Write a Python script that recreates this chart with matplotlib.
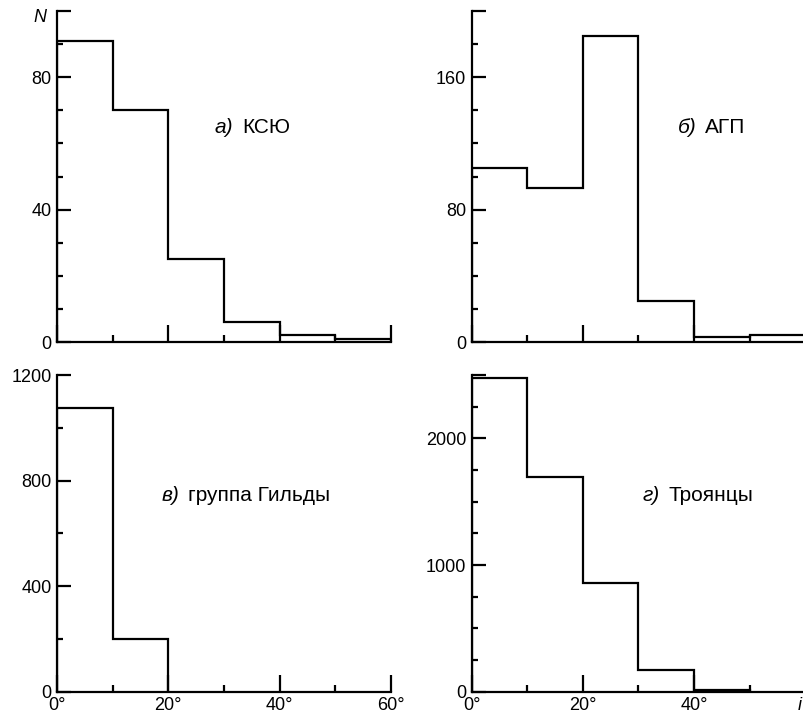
import matplotlib
matplotlib.use("Agg")
import matplotlib.pyplot as plt
from matplotlib.offsetbox import TextArea, HPacker, AnnotationBbox
from matplotlib.ticker import FixedLocator, FixedFormatter

plt.rcParams['font.family'] = ['Liberation Sans', 'DejaVu Sans']

# ---- data ----
edges_a = [0, 10, 20, 30, 40, 50, 60]
counts_a = [91, 70, 25, 6, 2, 1]
edges_b = [0, 10, 20, 30, 40, 50, 60]
counts_b = [105, 93, 185, 25, 3, 4]
edges_c = [0, 10, 20]
counts_c = [1075, 200]
edges_d = [0, 10, 20, 30, 40, 50]
counts_d = [2480, 1695, 860, 175, 10]

label_a = ("а)", "КСЮ")
label_b = ("б)", "АГП")
label_c = ("в)", "группа Гильды")
label_d = ("г)", "Троянцы")

yticks_a = [0, 40, 80]; ytop_a = 100; yminor_a = [10, 20, 30, 50, 60, 70, 90]
yticks_b = [0, 80, 160]; ytop_b = 200; yminor_b = [20, 40, 60, 100, 120, 140, 180]
yticks_c = [0, 400, 800, 1200]; ytop_c = 1200; yminor_c = [200, 600, 1000]
yticks_d = [0, 1000, 2000]; ytop_d = 2500; yminor_d = [250, 500, 750, 1250, 1500, 1750, 2250]

xmajor = [20, 40, 60]
xminor = [10, 30, 50]
xlabels = ["20°", "40°", "60°"]

W, H = 804, 715
fig = plt.figure(figsize=(W / 100, H / 100), dpi=100)

def px_axes(x0, x1, ytop, ybot):
    return fig.add_axes([x0 / W, 1 - ybot / H, (x1 - x0) / W, (ybot - ytop) / H])

LW = 1.6
FS = 13
FSL = 15

def setup(ax, edges, counts, yt, ytop, ymin, show_x, label, lx, ly):
    ax.stairs(counts, edges, baseline=0, fill=False, color='black', lw=LW)
    ax.set_xlim(0, 60)
    ax.set_ylim(0, ytop)
    for s in ['top', 'right']:
        ax.spines[s].set_visible(False)
    for s in ['left', 'bottom']:
        ax.spines[s].set_linewidth(LW)
    ymaj = list(yt) + ([ytop] if ytop not in yt else [])
    ylabs = [str(v) for v in yt] + ([''] if ytop not in yt else [])
    ax.yaxis.set_major_locator(FixedLocator(ymaj))
    ax.yaxis.set_major_formatter(FixedFormatter(ylabs))
    ax.yaxis.set_minor_locator(FixedLocator(ymin))
    ax.xaxis.set_major_locator(FixedLocator([0] + xmajor))
    if show_x:
        ax.xaxis.set_major_formatter(FixedFormatter(["0°"] + xlabels))
    else:
        ax.xaxis.set_major_formatter(FixedFormatter([""] * 4))
    ax.xaxis.set_minor_locator(FixedLocator(xminor))
    ax.tick_params(axis='y', which='major', direction='in', length=10, width=LW, labelsize=FS, pad=4)
    ax.tick_params(axis='y', which='minor', direction='in', length=4.5, width=LW)
    ax.tick_params(axis='x', which='major', direction='in', length=12, width=LW, labelsize=FS, pad=4)
    ax.tick_params(axis='x', which='minor', direction='in', length=5, width=LW)
    for sp in ax.spines.values():
        sp.set_clip_on(False)
    t1 = TextArea(label[0], textprops=dict(fontsize=FSL, fontstyle='italic'))
    t2 = TextArea(label[1], textprops=dict(fontsize=FSL))
    box = HPacker(children=[t1, t2], align='baseline', pad=0, sep=6)
    ab = AnnotationBbox(box, (lx, ly), xycoords='axes fraction', box_alignment=(0, 0.5),
                        frameon=False, pad=0)
    ax.add_artist(ab)

ax_a = px_axes(57, 391, 11, 342)
ax_b = px_axes(471.7, 805.3, 11, 342)
ax_c = px_axes(57, 391, 375, 691.7)
ax_d = px_axes(471.7, 805.3, 375, 691.7)

setup(ax_a, edges_a, counts_a, yticks_a, ytop_a, yminor_a, False, label_a, 0.473, 0.647)
setup(ax_b, edges_b, counts_b, yticks_b, ytop_b, yminor_b, False, label_b, 0.618, 0.647)
setup(ax_c, edges_c, counts_c, yticks_c, ytop_c, yminor_c, True, label_c, 0.314, 0.618)
setup(ax_d, edges_d, counts_d, yticks_d, ytop_d, yminor_d, True, label_d, 0.513, 0.618)

# panel d: replace 60° label with axis symbol i
ax_d.xaxis.set_major_formatter(FixedFormatter(["0°", "20°", "40°", ""]))

fig.text(40 / W, 1 - 18 / H, "N", fontsize=FS, fontstyle='italic', ha='center', va='center')
fig.text(800 / W, 1 - 706 / H, "i", fontsize=FS, fontstyle='italic', ha='center', va='center')

fig.savefig("out.png", dpi=100)
